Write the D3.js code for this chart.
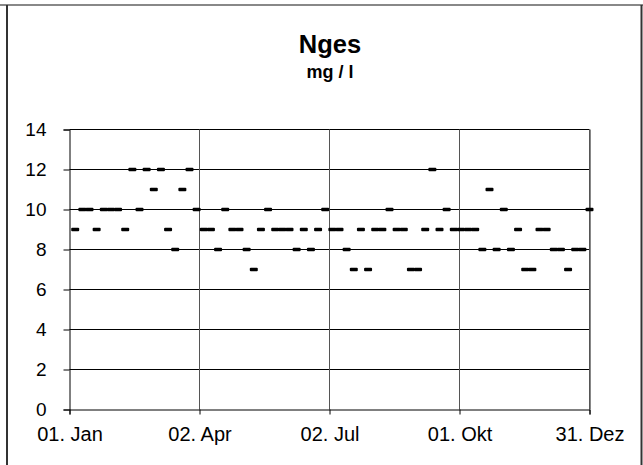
<!DOCTYPE html>
<html>
<head>
<meta charset="utf-8">
<script src="https://cdn.jsdelivr.net/npm/d3@7"></script>
<style>
  html, body { margin: 0; padding: 0; background: #fff; }
  svg { display: block; font-family: "Liberation Sans", Arial, sans-serif; }
</style>
</head>
<body>
<svg id="chart" width="643" height="465"></svg>
<script>
// Day of year (0 = 01. Jan) of each sample
const sampleDays = [4, 9, 14, 19, 24, 29, 34, 39, 44, 49, 54, 59, 64, 69, 74, 79, 84, 89,
  94, 99, 104, 109, 114, 119, 124, 129, 134, 139, 144, 149, 154, 159, 164, 169, 174, 179,
  184, 189, 194, 199, 204, 209, 214, 219, 224, 229, 234, 239, 244, 249, 254, 259, 264, 269,
  274, 279, 284, 289, 294, 299, 304, 309, 314, 319, 324, 329, 334, 339, 344, 349, 354, 359, 364];
// Nges values, mg / l
const ngesValues = [9, 10, 10, 9, 10, 10, 10, 9, 12, 10, 12, 11, 12, 9, 8, 11, 12, 10,
  9, 9, 8, 10, 9, 9, 8, 7, 9, 10, 9, 9, 9, 8, 9, 8, 9, 10,
  9, 9, 8, 7, 9, 7, 9, 9, 10, 9, 9, 7, 7, 9, 12, 9, 10, 9,
  9, 9, 9, 8, 11, 8, 10, 8, 9, 7, 7, 9, 9, 8, 8, 7, 8, 8, 10];
const xTickDays = [0, 91, 182, 273, 364];
const xTickLabels = ["01. Jan", "02. Apr", "02. Jul", "01. Okt", "31. Dez"];
const yTicks = [0, 2, 4, 6, 8, 10, 12, 14];
const titleText = "Nges";
const subtitleText = "mg / l";

const data = sampleDays.map((d, i) => ({ day: d, value: ngesValues[i] }));

const svg = d3.select("#chart");
const W = 643, H = 465;

// outer frame
svg.append("line").attr("x1", 0).attr("x2", W).attr("y1", 5).attr("y2", 5)
  .attr("stroke", "#888").attr("stroke-width", 2);
svg.append("line").attr("x1", 7).attr("x2", 7).attr("y1", 5).attr("y2", H)
  .attr("stroke", "#333").attr("stroke-width", 2);
svg.append("line").attr("x1", 641.5).attr("x2", 641.5).attr("y1", 5).attr("y2", H)
  .attr("stroke", "#333").attr("stroke-width", 2);

const x = d3.scaleLinear().domain([0, 364]).range([69.5, 589.5]);
const y = d3.scaleLinear().domain([0, 14]).range([409.5, 129.5]);

// titles
svg.append("text").attr("x", 330).attr("y", 53).attr("text-anchor", "middle")
  .attr("font-size", 25.5).attr("font-weight", "bold").text(titleText);
svg.append("text").attr("x", 330).attr("y", 78).attr("text-anchor", "middle")
  .attr("font-size", 18).attr("font-weight", "bold").text(subtitleText);

// horizontal gridlines
svg.append("g").selectAll("line").data(yTicks.filter(v => v > 0)).join("line")
  .attr("x1", x(0)).attr("x2", x(364))
  .attr("y1", d => y(d)).attr("y2", d => y(d))
  .attr("stroke", "#000").attr("stroke-width", 1);

// vertical gridlines
svg.append("g").selectAll("line").data(xTickDays.filter(v => v > 0)).join("line")
  .attr("x1", d => x(d)).attr("x2", d => x(d))
  .attr("y1", y(14)).attr("y2", y(0))
  .attr("stroke", "#555").attr("stroke-width", 1);
// right edge of plot area
svg.append("line").attr("x1", x(364) + 1).attr("x2", x(364) + 1)
  .attr("y1", y(14)).attr("y2", y(0)).attr("stroke", "#888").attr("stroke-width", 1);

// y axis
const yAxis = d3.axisLeft(y).tickValues(yTicks).tickSize(6).tickPadding(17)
  .tickFormat(d3.format("d"));
const gy = svg.append("g").attr("transform", `translate(${x(0)},0)`).call(yAxis);
gy.select(".domain").attr("stroke", "#000");
gy.selectAll(".tick line").attr("stroke", "#000");
gy.selectAll("text").attr("font-size", 19).attr("fill", "#000")
  .attr("font-family", "Liberation Sans, Arial, sans-serif");

// x axis
const xAxis = d3.axisBottom(x).tickValues(xTickDays).tickSize(5).tickPadding(12)
  .tickFormat((d, i) => xTickLabels[i]);
const gx = svg.append("g").attr("transform", `translate(0,${y(0)})`).call(xAxis);
gx.select(".domain").attr("stroke", "#000");
gx.selectAll(".tick line").attr("stroke", "#000");
gx.selectAll("text").attr("font-size", 20).attr("fill", "#000")
  .attr("font-family", "Liberation Sans, Arial, sans-serif");

// dash markers
svg.append("g").selectAll("rect").data(data).join("rect")
  .attr("x", d => x(d.day) - 4)
  .attr("y", d => y(d.value) - 1.75)
  .attr("width", 8).attr("height", 3.5)
  .attr("rx", 1)
  .attr("fill", "#000");
</script>
</body>
</html>
